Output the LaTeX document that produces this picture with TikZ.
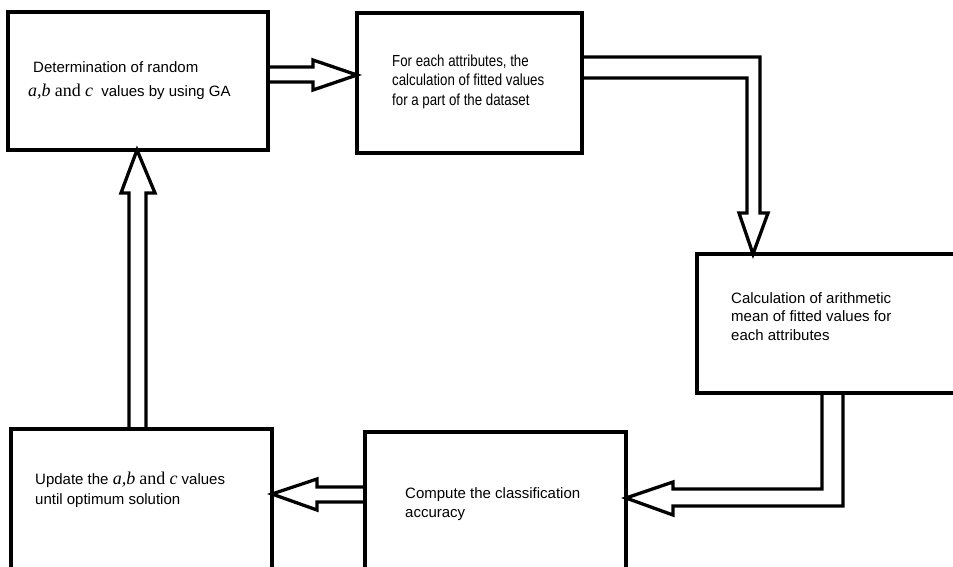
\documentclass[tikz,border=0pt]{standalone}
\usepackage{fontspec}
\setmainfont{Liberation Sans}
\newfontfamily\narrowsans[FakeStretch=0.83]{Liberation Sans}
\newfontfamily\timesrm{Liberation Serif}
\newcommand\mvar[1]{{\fontsize{18}{18}\timesrm\itshape #1}}
\newcommand\mand{{\fontsize{18}{18}\timesrm and}}
\begin{document}
\begin{tikzpicture}[x=1pt,y=-1pt,
  box/.style={draw, rectangle, inner sep=0pt, outer sep=0pt, line width=3.8pt},
  txt/.style={anchor=north west, inner sep=0pt, align=left},
  blk/.style={draw, line width=3.3pt, line join=miter}]
\useasboundingbox (0,0) rectangle (953,567);
\clip (0,0) rectangle (953,567);
% boxes
\node[box, minimum width=260pt, minimum height=138pt] (A) at (138,81) {};
\node[box, minimum width=225pt, minimum height=140pt] (B) at (469.5,83) {};
\node[box, minimum width=293pt, minimum height=139pt] (C) at (843.5,323.5) {};
\node[box, minimum width=261pt, minimum height=191pt] (D) at (141.5,524.5) {};
\node[box, minimum width=261pt, minimum height=188pt] (E) at (495.5,526) {};
% texts
\node[txt, font=\fontsize{15}{24}\selectfont] (tA) at (33,61.3)
  {Determination of random\\\hspace*{-5pt}\mvar{a,b} \mand{} \mvar{c}\ \ values by using GA};
\node[txt, font=\fontsize{16}{19.5}\selectfont\narrowsans] (tB) at (392,54.5)
  {For each attributes, the\\calculation of fitted values\\for a part of the dataset};
\node[txt, font=\fontsize{15}{18.5}\selectfont] (tC) at (731,292.3)
  {Calculation of arithmetic\\mean of fitted values for\\each attributes};
\node[txt, font=\fontsize{15}{20}\selectfont] (tD) at (35,472.3)
  {Update the \mvar{a,b} \mand{} \mvar{c} values\\until optimum solution};
\node[txt, font=\fontsize{15}{19}\selectfont] (tE) at (405,487.3)
  {Compute the classification\\accuracy};
% block arrows
\draw[blk] (A.east |- 0,67) -- (313,67) -- (313,60) -- (B.west |- 0,75)
  -- (313,90) -- (313,82) -- (A.east |- 0,82);
\draw[blk] (B.east |- 0,57) -- (760,57) -- (760,213) -- (768,213)
  -- (C.north -| 753,0) -- (739,213) -- (747,213) -- (747,78) -- (B.east |- 0,78);
\draw[blk] (C.south -| 822,0) -- (822,489) -- (673,489) -- (673,482)
  -- (E.east |- 0,498) -- (673,515) -- (673,506) -- (843,506) -- (C.south -| 843,0);
\draw[blk] (E.west |- 0,487) -- (317,487) -- (317,479) -- (D.east |- 0,494)
  -- (317,510) -- (317,502) -- (E.west |- 0,502);
\draw[blk] (D.north -| 129,0) -- (129,193) -- (121,193) -- (A.south -| 137,0)
  -- (155,193) -- (146,193) -- (D.north -| 146,0);
\end{tikzpicture}
\end{document}
